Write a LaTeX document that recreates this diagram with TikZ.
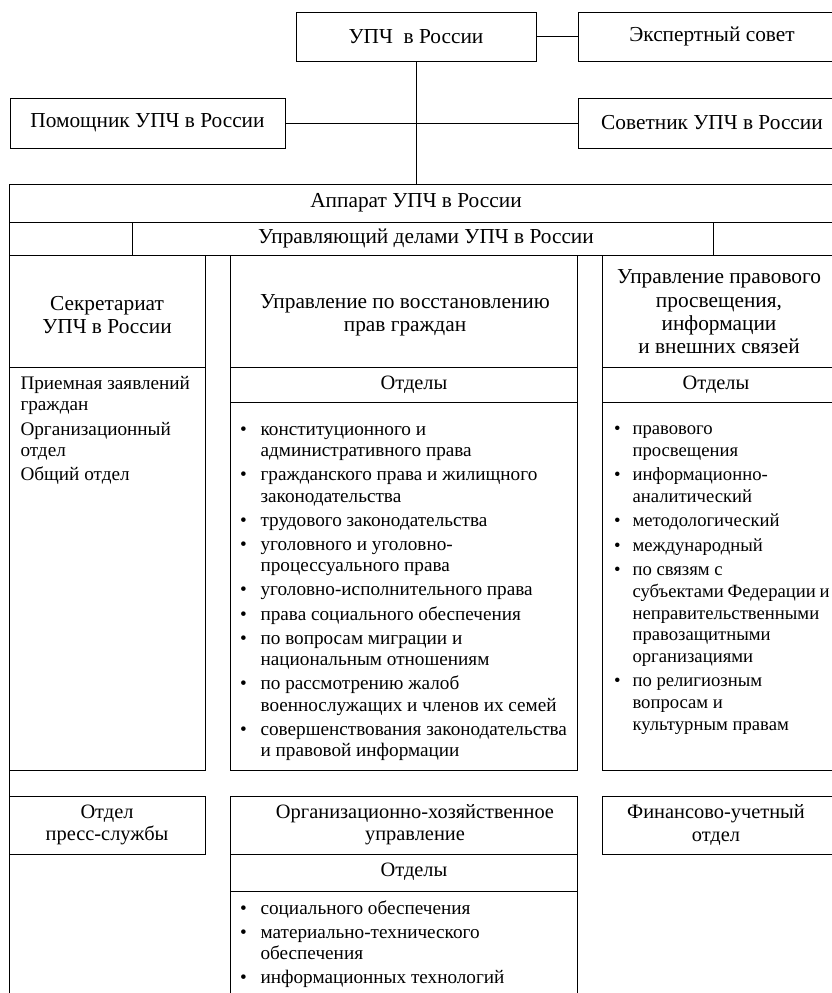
\documentclass[tikz,border=0pt]{standalone}
\usepackage{fontspec}
\setmainfont{Liberation Serif}
\usepackage{xcolor}

\begin{document}
\begin{tikzpicture}[x=0.75pt, y=-0.75pt, line width=0.75pt, every node/.style={font=\fontsize{16}{17.5}\selectfont}]
  \tikzstyle{unit}=[draw, rectangle, inner sep=0pt, align=center]
  \tikzstyle{head}=[align=center, inner sep=0pt]
  \tikzstyle{low}=[align=center, inner sep=0pt, font=\fontsize{15.3}{16.8}\selectfont]
  \tikzstyle{lst}=[anchor=base west, inner sep=0pt, font=\fontsize{14.4}{16.1}\selectfont]
  \useasboundingbox (0,0) rectangle (832,993);
  \clip (0,0) rectangle (832,993);
  \node[unit, minimum width=180pt, minimum height=36.75pt] (upc) at (416,36.5) {УПЧ~ в России};
  \node[unit, minimum width=201pt, minimum height=36.75pt] (expert) at (712,36.5) {Экспертный совет};
  \node[unit, minimum width=206.25pt, minimum height=37.5pt] (pomosh) at (147.5,123) {Помощник УПЧ в России};
  \node[unit, minimum width=201pt, minimum height=37.5pt] (sovet) at (712,123) {Советник УПЧ в России};
  \coordinate (ramka) at (416,184);
  \draw (upc.east) -- (expert.west);
  \draw (pomosh.east) -- (sovet.west);
  \draw (upc.south) -- (ramka);
  \draw (850,184) -- (9,184) -- (9,1000);
  \draw (9,222) -- (850,222) (9,255) -- (850,255);
  \draw (132,222) -- (132,255) (713,222) -- (713,255);
  \draw (9,255) rectangle (205,770) (9,367) -- (205,367);
  \draw (230,255) rectangle (577,770) (230,367) -- (577,367) (230,402) -- (577,402);
  \draw (602,255) rectangle (850,770) (602,367) -- (850,367) (602,402) -- (850,402);
  \draw (9,796) rectangle (205,854);
  \draw (230,1000) -- (230,796) -- (577,796) -- (577,1000) (230,854) -- (577,854) (230,891) -- (577,891);
  \draw (602,796) rectangle (850,854);
  \node (apparat) at (416,203) {Аппарат УПЧ в России};
  \node (upravd) at (426,238.5) {Управляющий делами УПЧ в России};
  \node[head] (sekr) at (107,315) {Секретариат\\УПЧ в России};
  \node[head] (vosst) at (405,315) {Управление по восстановлению\\прав граждан};
  \node[head] (prosv) at (719,312) {Управление правового\\просвещения,\\информации\\и внешних связей};
  \node[low] (otd2) at (414,385) {Отделы};
  \node[low] (otd3) at (716,385) {Отделы};
  \node[lst] (sekrlist) at (20,389.5) {\begin{tabular}[t]{@{}l@{}}
    Приемная заявлений\\ граждан\\[2pt]
    Организационный\\ отдел\\[2pt]
    Общий отдел
  \end{tabular}};
  \node[lst] (vosstlist) at (239.5,435) {\begin{tabular}[t]{@{}l@{\hspace{10.4pt}}l@{}}
    \textbullet & конституционного и\\ & административного права\\[2pt]
    \textbullet & гражданского права и жилищного\\ & законодательства\\[2pt]
    \textbullet & трудового законодательства\\[2pt]
    \textbullet & уголовного и уголовно-\\ & процессуального права\\[2pt]
    \textbullet & уголовно-исполнительного права\\[2pt]
    \textbullet & права социального обеспечения\\[2pt]
    \textbullet & по вопросам миграции и\\ & национальным отношениям\\[2pt]
    \textbullet & по рассмотрению жалоб\\ & военнослужащих и членов их семей\\[2pt]
    \textbullet & совершенствования законодательства\\ & и правовой информации
  \end{tabular}};
  \node[lst, font=\fontsize{14}{16.3}\selectfont] (prosvlist) at (613.5,434.5) {\begin{tabular}[t]{@{}l@{\hspace{9pt}}l@{}}
    \textbullet & правового\\ & просвещения\\[2pt]
    \textbullet & информационно-\\ & аналитический\\[2pt]
    \textbullet & методологический\\[2pt]
    \textbullet & международный\\[2pt]
    \textbullet & по связям с\\ & {\spaceskip=0.2em субъектами Федерации и}\\ & неправительственными\\ & правозащитными\\ & организациями\\[2pt]
    \textbullet & по религиозным\\ & вопросам и\\ & культурным правам
  \end{tabular}};
  \node[low] (press) at (107,825) {Отдел\\пресс-службы};
  \node[low] (orgh) at (415,825) {Организационно-хозяйственное\\управление};
  \node[low] (finans) at (716,825) {Финансово-учетный\\отдел};
  \node[low] (otd4) at (414,872) {Отделы};
  \node[lst] (orghlist) at (239.5,914) {\begin{tabular}[t]{@{}l@{\hspace{10.4pt}}l@{}}
    \textbullet & социального обеспечения\\[2pt]
    \textbullet & материально-технического\\ & обеспечения\\[2pt]
    \textbullet & информационных технологий
  \end{tabular}};
\end{tikzpicture}
\end{document}
